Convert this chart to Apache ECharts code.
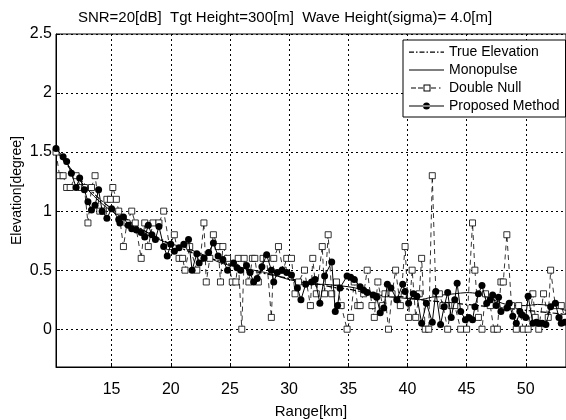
<!DOCTYPE html>
<html>
<head>
<meta charset="utf-8">
<script src="https://cdn.jsdelivr.net/npm/echarts@6/dist/echarts.min.js"></script>
<style>
  html, body { margin: 0; padding: 0; background: #fff; }
  #chart { width: 566px; height: 420px; }
</style>
</head>
<body>
<div id="chart"></div>
<script>
// smooth curves, read every ~1 km
var trueRange = [10.3, 11, 12, 13, 14, 15, 16, 17, 18, 19, 20, 21, 22, 23, 24, 25, 26, 27, 28, 29, 30, 31, 32, 33, 34, 35, 36, 37, 38, 39, 40, 41, 42, 43, 44, 45, 46, 47, 48, 49, 50, 51, 52, 53, 53.4];
var trueElev = [1.52, 1.42, 1.3, 1.2, 1.1, 1.02, 0.95, 0.88, 0.82, 0.77, 0.72, 0.68, 0.64, 0.61, 0.58, 0.55, 0.52, 0.49, 0.47, 0.45, 0.43, 0.41, 0.39, 0.37, 0.35, 0.34, 0.32, 0.31, 0.29, 0.28, 0.27, 0.25, 0.24, 0.23, 0.22, 0.21, 0.2, 0.19, 0.18, 0.17, 0.16, 0.15, 0.14, 0.13, 0.13];
var monoElev = [1.5, 1.43, 1.3, 1.18, 1.08, 1.0, 0.94, 0.87, 0.8, 0.76, 0.72, 0.7, 0.66, 0.62, 0.57, 0.54, 0.52, 0.5, 0.48, 0.45, 0.42, 0.4, 0.38, 0.38, 0.37, 0.36, 0.34, 0.31, 0.28, 0.27, 0.26, 0.25, 0.27, 0.29, 0.3, 0.31, 0.3, 0.26, 0.22, 0.2, 0.2, 0.21, 0.2, 0.17, 0.16];

// double null (squares)
var dnRange = [10.3, 10.6, 10.9, 11.2, 11.5, 12.0, 12.4, 12.7, 13.0, 13.3, 13.6, 14.0, 14.3, 14.6, 14.9, 15.1, 15.4, 15.6, 16.0, 16.3, 16.7, 17.0, 17.5, 17.8, 18.1, 18.5, 19.0, 19.4, 19.9, 20.3, 20.7, 21.0, 21.2, 21.6, 22.2, 22.5, 22.8, 23.0, 23.3, 23.6, 24.0, 24.2, 24.4, 24.8, 25.2, 25.5, 25.7, 26.0, 26.2, 26.6, 26.9, 27.1, 27.4, 27.8, 28.1, 28.5, 28.7, 29.1, 29.5, 29.8, 30.2, 30.5, 30.8, 31.3, 31.8, 32.0, 32.3, 32.8, 33.0, 33.3, 33.6, 34.0, 34.4, 34.9, 35.2, 35.5, 35.8, 36.0, 36.3, 36.6, 37.0, 37.2, 37.5, 37.9, 38.1, 38.4, 38.7, 39.0, 39.4, 39.8, 40.1, 40.4, 40.7, 41.0, 41.2, 41.5, 41.8, 42.1, 42.4, 42.7, 43.0, 43.4, 43.7, 44.0, 44.5, 45.0, 45.5, 45.7, 46.0, 46.3, 46.6, 47.0, 47.3, 47.6, 47.9, 48.1, 48.4, 48.8, 49.2, 49.4, 49.8, 50.2, 50.6, 50.8, 51.1, 51.5, 51.9, 52.1, 52.5, 53.0, 53.3];
var dnElev = [1.5, 1.3, 1.3, 1.2, 1.2, 1.3, 1.2, 1.2, 0.9, 1.2, 1.3, 1.0, 1.0, 1.1, 1.1, 1.2, 1.1, 1.0, 0.7, 0.9, 1.0, 0.9, 0.6, 0.9, 0.7, 0.9, 0.9, 1.0, 0.7, 0.8, 0.6, 0.6, 0.5, 0.7, 0.5, 0.6, 0.9, 0.4, 0.6, 0.8, 0.7, 0.4, 0.7, 0.6, 0.4, 0.4, 0.6, 0.0, 0.6, 0.4, 0.6, 0.6, 0.4, 0.6, 0.6, 0.1, 0.6, 0.7, 0.5, 0.6, 0.6, 0.3, 0.4, 0.5, 0.2, 0.6, 0.3, 0.7, 0.3, 0.8, 0.3, 0.4, 0.2, 0.0, 0.1, 0.4, 0.2, 0.2, 0.3, 0.5, 0.2, 0.1, 0.4, 0.2, 0.3, 0.0, 0.3, 0.5, 0.2, 0.7, 0.1, 0.5, 0.1, 0.3, 0.6, 0.0, 0.0, 1.3, 0.3, 0.3, 0.2, 0.0, 0.2, 0.2, 0.0, 0.0, 0.9, 0.5, 0.1, 0.0, 0.3, 0.2, 0.0, 0.0, 0.4, 0.4, 0.8, 0.2, 0.0, 0.2, 0.0, 0.0, 0.3, 0.1, 0.0, 0.3, 0.1, 0.5, 0.2, 0.2, 0.1];

// proposed method (filled circles)
var pmRange = [10.3, 10.9, 11.2, 11.6, 12.0, 12.3, 12.7, 13.0, 13.3, 13.6, 13.9, 14.2, 14.6, 15.0, 15.6, 15.7, 16.0, 16.4, 16.7, 17.1, 17.5, 17.8, 18.1, 18.4, 18.7, 19.0, 19.4, 19.7, 20.0, 20.3, 20.7, 21.1, 21.5, 21.8, 22.2, 22.4, 22.8, 23.2, 23.6, 24.0, 24.4, 24.8, 25.3, 25.6, 25.9, 26.4, 26.7, 27.0, 27.3, 27.7, 28.1, 28.5, 28.7, 29.0, 29.4, 29.8, 30.2, 30.7, 31.0, 31.4, 31.9, 32.2, 32.6, 33.0, 33.6, 33.9, 34.1, 34.3, 34.9, 35.2, 35.5, 36.0, 36.3, 36.6, 37.1, 37.4, 37.7, 38.0, 38.3, 38.6, 39.1, 39.6, 39.8, 40.1, 40.5, 40.8, 41.2, 41.6, 42.1, 42.4, 42.8, 43.1, 43.4, 43.7, 44.0, 44.2, 44.5, 44.9, 45.2, 45.5, 45.7, 46.0, 46.3, 46.7, 47.0, 47.2, 47.5, 47.7, 47.9, 48.4, 48.6, 48.9, 49.2, 49.5, 49.7, 50.0, 50.2, 50.6, 50.9, 51.1, 51.4, 51.7, 52.1, 52.5, 52.8, 53.0, 53.3];
var pmElev = [1.53, 1.46, 1.42, 1.32, 1.2, 1.28, 1.18, 1.08, 1.01, 1.05, 1.18, 1.0, 0.94, 1.02, 0.93, 0.9, 0.95, 0.88, 0.85, 0.84, 0.82, 0.78, 0.88, 0.8, 0.76, 0.87, 0.7, 0.62, 0.72, 0.66, 0.69, 0.72, 0.76, 0.5, 0.64, 0.56, 0.6, 0.65, 0.73, 0.62, 0.59, 0.5, 0.56, 0.52, 0.5, 0.54, 0.48, 0.4, 0.43, 0.53, 0.63, 0.5, 0.4, 0.48, 0.5, 0.48, 0.46, 0.35, 0.25, 0.38, 0.4, 0.42, 0.22, 0.45, 0.57, 0.15, 0.2, 0.35, 0.45, 0.44, 0.42, 0.36, 0.33, 0.31, 0.29, 0.27, 0.14, 0.18, 0.38, 0.35, 0.25, 0.38, 0.32, 0.22, 0.3, 0.28, 0.05, 0.22, 0.06, 0.32, 0.04, 0.19, 0.31, 0.1, 0.25, 0.39, 0.15, 0.08, 0.1, 0.08, 0.19, 0.3, 0.37, 0.22, 0.25, 0.29, 0.2, 0.27, 0.15, 0.18, 0.22, 0.11, 0.05, 0.15, 0.12, 0.1, 0.28, 0.05, 0.06, 0.05, 0.05, 0.04, 0.19, 0.22, 0.1, 0.05, 0.06];

var xTicks = [15, 20, 25, 30, 35, 40, 45, 50];
var yTicks = [0, 0.5, 1, 1.5, 2, 2.5];

function pairs(xs, ys) {
  return xs.map(function (x, i) { return [x, ys[i]]; });
}

// legend icons drawn in a 35x12 box; the two specks fix the bounding box
var box = 'M0,0h0.01v0.01h-0.01z M34.99,11.99h0.01v0.01h-0.01z ';
var icons = {
  trueEl: 'path://' + box + 'M0,5.4h5v1.3h-5z M7,5.4h1.5v1.3h-1.5z M10.5,5.4h5v1.3h-5z M17.5,5.4h1.5v1.3h-1.5z M21,5.4h5v1.3h-5z M28,5.4h1.5v1.3h-1.5z M31.5,5.4h3.5v1.3h-3.5z',
  mono: 'path://' + box + 'M0,5.5h35v1h-35z',
  dn: 'path://' + box + 'M2,5.5h5v1h-5z M9,5.5h5v1h-5z M14.5,2.5h7v7h-7z M15.5,3.5v5h5v-5z M22,5.5h5v1h-5z M30,5.5h1.5v1h-1.5z',
  pm: 'path://' + box + 'M0,5.5h35v1h-35z M14,6a3.5,3.5 0 1,0 7,0a3.5,3.5 0 1,0 -7,0z'
};

var chart = echarts.init(document.getElementById('chart'));
var font = 'Liberation Sans, Arial, sans-serif';
var legendStyle = { color: '#000', borderWidth: 0 };

var option = {
  animation: false,
  backgroundColor: '#fff',
  title: {
    text: 'SNR=20[dB]  Tgt Height=300[m]  Wave Height(sigma)= 4.0[m]',
    left: 280,
    textAlign: 'center',
    top: 5,
    textStyle: { fontFamily: font, fontSize: 15, fontWeight: 'normal', color: '#000' }
  },
  legend: {
    orient: 'vertical',
    left: 403,
    top: 40,
    padding: [5, 6, 4, 6],
    itemWidth: 35,
    itemHeight: 12,
    itemGap: 4,
    itemTextGap: 3,
    backgroundColor: '#fff',
    borderColor: '#000',
    borderWidth: 1,
    textStyle: { fontFamily: font, fontSize: 14, color: '#000' },
    data: [
      { name: 'True Elevation', icon: icons.trueEl, itemStyle: legendStyle },
      { name: 'Monopulse', icon: icons.mono, itemStyle: legendStyle },
      { name: 'Double Null', icon: icons.dn, itemStyle: legendStyle },
      { name: 'Proposed Method', icon: icons.pm, itemStyle: legendStyle }
    ]
  },
  grid: {
    left: 56, right: 0, top: 34, bottom: 53,
    outerBoundsMode: 'none',
    show: true, borderColor: '#000', borderWidth: 1
  },
  xAxis: {
    type: 'value',
    min: 10.3,
    max: 53.4,
    name: 'Range[km]',
    nameLocation: 'middle',
    nameGap: 37,
    nameMoveOverlap: false,
    nameTextStyle: { fontFamily: font, fontSize: 15, color: '#000' },
    axisLine: { onZero: false, lineStyle: { color: '#000' } },
    axisTick: { inside: true, length: 4, customValues: xTicks, lineStyle: { color: '#000' } },
    axisLabel: { customValues: xTicks, fontFamily: font, fontSize: 16, color: '#000', margin: 15 },
    splitLine: { show: true, lineStyle: { color: '#000', type: [2, 3], width: 1 } }
  },
  yAxis: {
    type: 'value',
    min: -0.32,
    max: 2.5,
    name: 'Elevation[degree]',
    nameLocation: 'middle',
    nameGap: 32,
    nameMoveOverlap: false,
    nameTextStyle: { fontFamily: font, fontSize: 14, color: '#000', padding: [0, 0, 0, 20] },
    axisLine: { show: true, lineStyle: { color: '#000' } },
    axisTick: { show: true, inside: true, length: 4, customValues: yTicks, lineStyle: { color: '#000' } },
    axisLabel: { customValues: yTicks, fontFamily: font, fontSize: 16, color: '#000', margin: 4 },
    splitLine: { show: true, lineStyle: { color: '#000', type: [2, 3], width: 1 } }
  },
  series: [
    {
      name: 'True Elevation',
      type: 'line',
      symbol: 'none',
      data: pairs(trueRange, trueElev),
      lineStyle: { color: '#000', width: 1.2, type: [6, 2, 2, 2] },
      itemStyle: { color: '#000' },
      z: 3
    },
    {
      name: 'Monopulse',
      type: 'line',
      symbol: 'none',
      smooth: 0.3,
      data: pairs(trueRange, monoElev),
      lineStyle: { color: '#000', width: 1 },
      itemStyle: { color: '#000' },
      z: 3
    },
    {
      name: 'Double Null',
      type: 'line',
      symbol: 'rect',
      symbolSize: 6,
      data: pairs(dnRange, dnElev),
      lineStyle: { color: '#000', width: 0.8, type: [5, 4] },
      itemStyle: { color: '#fff', borderColor: '#000', borderWidth: 0.8 },
      z: 4
    },
    {
      name: 'Proposed Method',
      type: 'line',
      symbol: 'circle',
      symbolSize: 7,
      data: pairs(pmRange, pmElev),
      lineStyle: { color: '#000', width: 1 },
      itemStyle: { color: '#000' },
      z: 5
    }
  ]
};

chart.setOption(option);
</script>
</body>
</html>
